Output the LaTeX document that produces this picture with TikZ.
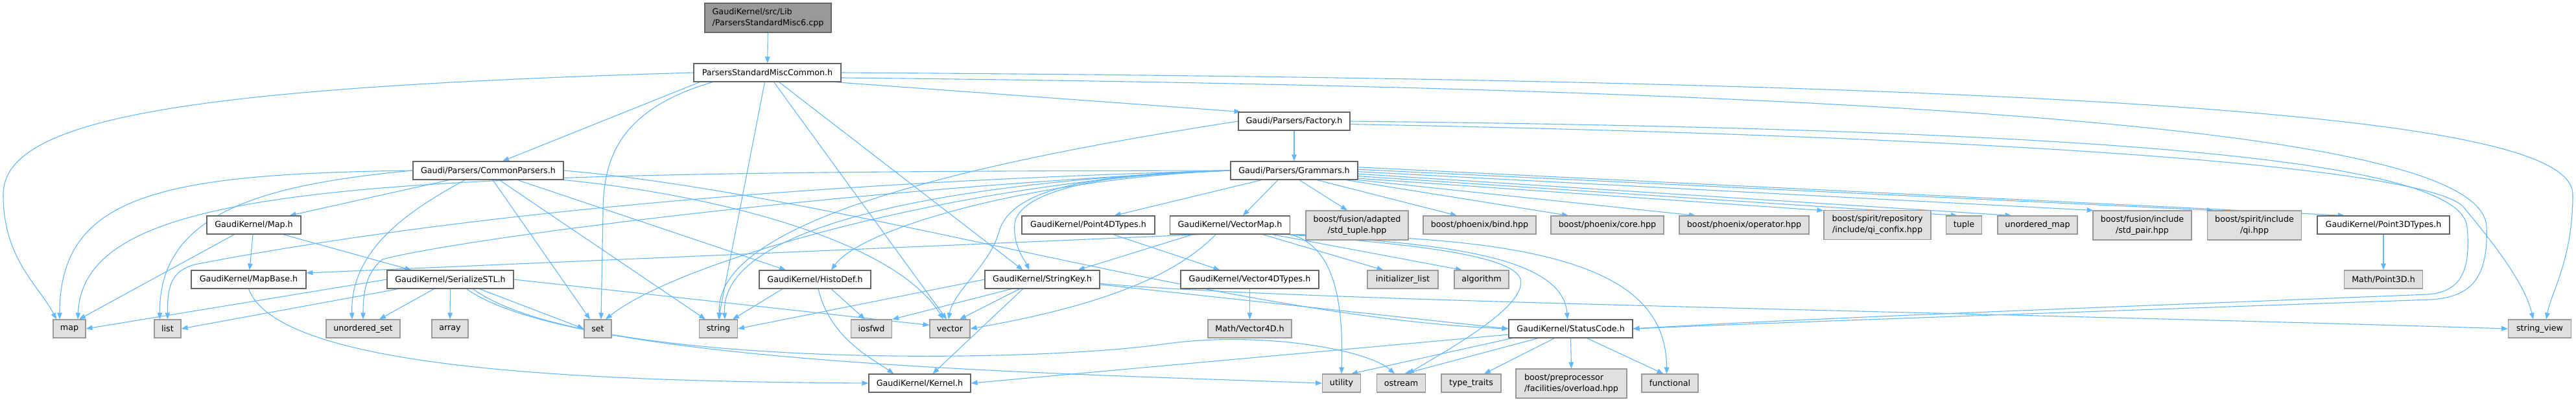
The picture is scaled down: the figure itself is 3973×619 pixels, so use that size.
\documentclass[tikz,border=0pt]{standalone}
\usepackage{fontspec}
\setmainfont{DejaVu Sans}
\usetikzlibrary{arrows.meta}
\pgfdeclarelayer{backg}
\pgfdeclarelayer{edges}
\pgfsetlayers{backg,edges,main}
\definecolor{edgec}{HTML}{63B8FF}
\definecolor{curfill}{HTML}{999999}
\definecolor{bordc}{HTML}{666666}
\definecolor{extfill}{HTML}{E0E0E0}
\definecolor{extbord}{HTML}{999999}
\begin{document}
\begin{tikzpicture}[x=1pt,y=-1pt,
  box/.style={inner sep=0pt,minimum height=28pt,font=\fontsize{12.7}{17}\selectfont,line width=1.1pt},
  wnode/.style={box,draw=bordc,fill=white},
  gnode/.style={box,draw=extbord,fill=extfill},
  cnode/.style={box,draw=bordc,fill=curfill},
  tall/.style={minimum height=45pt,align=center},
  tallleft/.style={minimum height=45pt,align=left},
  conn/.style={draw=edgec,line width=1.1pt,-{Triangle[length=10pt,width=7.5pt]}}]
\useasboundingbox (0,0) rectangle (3973,619);
\begin{pgfonlayer}{backg}
\fill[white] (0,0) rectangle (3973,619);
\end{pgfonlayer}
% nodes
\node[cnode,tallleft,minimum width=195pt] (misc6) at (1184.5,27.5) {GaudiKernel/src/Lib\\/ParsersStandardMisc6.cpp};
\node[wnode,minimum width=227pt] (psmc) at (1183.5,112) {ParsersStandardMiscCommon.h};
\node[wnode,minimum width=232pt] (cp) at (753,263) {Gaudi/Parsers/CommonParsers.h};
\node[wnode,minimum width=172pt] (fac) at (1996,187) {Gaudi/Parsers/Factory.h};
\node[wnode,minimum width=196pt] (gram) at (1996,263) {Gaudi/Parsers/Grammars.h};
\node[wnode,minimum width=145pt] (maph) at (391.5,347) {GaudiKernel/Map.h};
\node[wnode,minimum width=177pt] (mapbase) at (383.5,431) {GaudiKernel/MapBase.h};
\node[wnode,minimum width=195pt] (ser) at (694.5,431) {GaudiKernel/SerializeSTL.h};
\node[gnode,minimum width=50pt] (map) at (107,507) {map};
\node[gnode,minimum width=41pt] (list) at (258.5,507) {list};
\node[gnode,minimum width=114pt] (uset) at (560,507) {unordered\_set};
\node[gnode,minimum width=56pt] (array) at (694,507) {array};
\node[gnode,minimum width=42pt] (set) at (922,507) {set};
\node[gnode,minimum width=59pt] (string) at (1108,507) {string};
\node[wnode,minimum width=172pt] (histo) at (1257,431) {GaudiKernel/HistoDef.h};
\node[gnode,minimum width=63pt] (iosfwd) at (1344,507) {iosfwd};
\node[gnode,minimum width=62pt] (vector) at (1465,507) {vector};
\node[wnode,minimum width=157pt] (kernel) at (1418.5,591) {GaudiKernel/Kernel.h};
\node[wnode,minimum width=177pt] (skey) at (1607.5,431) {GaudiKernel/StringKey.h};
\node[wnode,minimum width=205pt] (p4d) at (1678.5,347) {GaudiKernel/Point4DTypes.h};
\node[wnode,minimum width=185pt] (vmap) at (1897,347) {GaudiKernel/VectorMap.h};
\node[gnode,tall,minimum width=158pt] (stdtuple) at (2093,347.5) {boost/fusion/adapted\\/std\_tuple.hpp};
\node[gnode,minimum width=174pt] (bind) at (2282,347) {boost/phoenix/bind.hpp};
\node[gnode,minimum width=174pt] (core) at (2479,347) {boost/phoenix/core.hpp};
\node[gnode,minimum width=200pt] (oper) at (2690,347) {boost/phoenix/operator.hpp};
\node[gnode,tall,minimum width=165pt] (confix) at (2895.5,347) {boost/spirit/repository\\/include/qi\_confix.hpp};
\node[gnode,minimum width=55pt] (tuple) at (3029,347) {tuple};
\node[gnode,minimum width=123pt] (umap) at (3142.5,347) {unordered\_map};
\node[gnode,tall,minimum width=152pt] (stdpair) at (3304,347.5) {boost/fusion/include\\/std\_pair.hpp};
\node[gnode,tall,minimum width=145pt] (qi) at (3477,347.5) {boost/spirit/include\\/qi.hpp};
\node[wnode,minimum width=204pt] (p3d) at (3676,347) {GaudiKernel/Point3DTypes.h};
\node[gnode,minimum width=121pt] (mp3d) at (3676,431) {Math/Point3D.h};
\node[gnode,minimum width=97pt] (sview) at (3917,507) {string\_view};
\node[wnode,minimum width=213pt] (v4d) at (1927.5,431) {GaudiKernel/Vector4DTypes.h};
\node[gnode,minimum width=109pt] (initl) at (2163.5,431) {initializer\_list};
\node[gnode,minimum width=84pt] (algo) at (2285,431) {algorithm};
\node[gnode,minimum width=129pt] (mv4d) at (1927.5,507) {Math/Vector4D.h};
\node[wnode,minimum width=191pt] (sc) at (2422.5,507) {GaudiKernel/StatusCode.h};
\node[gnode,minimum width=59pt] (utility) at (2069,591) {utility};
\node[gnode,minimum width=75pt] (ostream) at (2161,591) {ostream};
\node[gnode,minimum width=92pt] (ttraits) at (2269,591) {type\_traits};
\node[gnode,tallleft,minimum width=171pt] (overload) at (2423.5,591.5) {boost/preprocessor\\/facilities/overload.hpp};
\node[gnode,minimum width=87pt] (functional) at (2575.5,591) {functional};
% edges
\begin{pgfonlayer}{edges}
\draw[conn] (misc6) -- (psmc);
% ParsersStandardMiscCommon.h
\draw[conn] (psmc.west) .. controls (300,135) and (5,180) .. (5,300) .. controls (5,400) and (60,440) .. ([xshift=-20pt]map.north);
\draw[conn] ([xshift=10pt]psmc.south west) -- ([xshift=22pt]cp.north);
\draw[conn] ([xshift=30pt]psmc.south west) .. controls (950,170) and (930,250) .. (930,330) -- ([xshift=5pt]set.north);
\draw[conn] ([xshift=-4pt]psmc.south) -- (string.north);
\draw[conn] ([xshift=10pt]psmc.south) -- ([xshift=-5pt]vector.north);
\draw[conn] ([xshift=18pt]psmc.south) -- ([xshift=-30pt]skey.north);
\draw[conn] (psmc.-8) -- (fac.170);
\draw[conn] (psmc.east) .. controls (3400,125) and (3968,190) .. (3968,300) .. controls (3968,400) and (3935,450) .. ([xshift=10pt]sview.north);
\draw[conn] (psmc.-4) .. controls (3300,140) and (3830,230) .. (3835,350) .. controls (3838,430) and (3810,458) .. (3750,462) .. controls (3300,478) and (2800,495) .. (sc.east);
% Factory.h
\draw[conn] (fac) -- (gram);
\draw[conn] (fac.west) .. controls (1500,250) and (1100,340) .. ([xshift=2pt]string.north);
\draw[conn] (fac.east) .. controls (3300,200) and (3795,250) .. (3805,350) .. controls (3812,425) and (3790,450) .. (3745,454) .. controls (3300,472) and (2800,490) .. (sc.east);
\draw[conn] (fac.-3) .. controls (3300,215) and (3760,270) .. (3800,320) .. controls (3850,380) and (3895,440) .. ([xshift=-10pt]sview.north);
% CommonParsers.h
\draw[conn] (cp.west) .. controls (250,268) and (92,300) .. ([xshift=-15pt]map.north);
\draw[conn] (cp.west) .. controls (400,285) and (245,330) .. ([xshift=-12pt]list.north);
\draw[conn] ([xshift=-60pt]cp.south) -- ([xshift=55pt]maph.north);
\draw[conn] ([xshift=-36pt]cp.south) .. controls (640,320) and (540,380) .. ([xshift=-17pt]uset.north);
\draw[conn] ([xshift=45pt]cp.south) -- ([xshift=-45pt]histo.north);
\draw[conn] ([xshift=7pt]cp.south) -- ([xshift=-12pt]set.north);
\draw[conn] ([xshift=17pt]cp.south) -- ([xshift=-20pt]string.north);
\draw[conn] (cp.south east) .. controls (1100,300) and (1380,370) .. ([xshift=-10pt]vector.north);
\draw[conn] (cp.east) .. controls (1300,300) and (1900,490) .. (sc.west);
% Grammars.h
\draw[conn] (gram.west) .. controls (600,265) and (130,275) .. ([xshift=13pt]map.north);
\draw[conn] (gram.west) .. controls (1100,285) and (600,350) .. (300,408) .. controls (265,418) and (258,440) .. (list.north);
\draw[conn] (gram.west) .. controls (1300,290) and (700,370) .. (590,400) .. controls (565,420) and (560,450) .. (uset.north);
\draw[conn] (gram.west) .. controls (1500,275) and (1050,400) .. ([xshift=12pt]set.north);
\draw[conn] (gram.west) .. controls (1450,280) and (1110,350) .. ([xshift=10pt]string.north);
\draw[conn] (gram.west) .. controls (1650,268) and (1555,300) .. (1540,360) .. controls (1525,410) and (1470,450) .. ([xshift=-2pt]vector.north);
\draw[conn] (gram.west) .. controls (1680,266) and (1570,300) .. (1565,345) .. controls (1562,380) and (1580,400) .. ([xshift=-20pt]skey.north);
\draw[conn] (gram.west) .. controls (1600,275) and (1330,350) .. ([xshift=25pt]histo.north);
\draw[conn] ([xshift=-50pt]gram.south) -- ([xshift=40pt]p4d.north);
\draw[conn] ([xshift=-25pt]gram.south) -- ([xshift=20pt]vmap.north);
\draw[conn] ([xshift=8pt]gram.south) -- ([xshift=-15pt]stdtuple.north);
\draw[conn] ([xshift=35pt]gram.south) -- ([xshift=-35pt]bind.north);
\draw[conn] ([xshift=80pt]gram.south) -- ([xshift=-60pt]core.north);
\draw[conn] (gram.south east) -- ([xshift=-75pt]oper.north);
\draw[conn] (gram.-7) -- (confix.165);
\draw[conn] (gram.-5) -- ([xshift=-10pt]tuple.north);
\draw[conn] (gram.-3) -- ([xshift=-40pt]umap.north);
\draw[conn] (gram.-1) -- (stdpair.163);
\draw[conn] (gram.1) -- (qi.160);
\draw[conn] (gram.3) -- ([xshift=-60pt]p3d.north);
% Map.h, MapBase.h
\draw[conn] (maph) -- (mapbase);
\draw[conn] ([xshift=45pt]maph.south) -- ([xshift=-60pt]ser.north);
\draw[conn] ([xshift=-30pt]maph.south) -- ([xshift=15pt]map.north);
\draw[conn] (mapbase.south) .. controls (430,570) and (900,588) .. (kernel.west);
% SerializeSTL.h
\draw[conn] (ser.west) -- (map.east);
\draw[conn] ([xshift=-80pt]ser.south) -- (list.east);
\draw[conn] ([xshift=-25pt]ser.south) -- ([xshift=25pt]uset.north);
\draw[conn] (ser.south) -- (array.north);
\draw[conn] ([xshift=45pt]ser.south) -- (set.west);
\draw[conn] (ser.east) -- (vector.170);
\draw[conn] ([xshift=35pt]ser.south) .. controls (900,570) and (1600,560) .. (1800,530) .. controls (1950,510) and (2110,540) .. ([xshift=-10pt]ostream.north);
\draw[conn] ([xshift=25pt]ser.south) .. controls (880,560) and (1600,575) .. (utility.west);
% HistoDef.h
\draw[conn] ([xshift=-50pt]histo.south) -- ([xshift=22pt]string.north);
\draw[conn] ([xshift=25pt]histo.south) -- ([xshift=-10pt]iosfwd.north);
\draw[conn] ([xshift=5pt]histo.south) .. controls (1280,520) and (1340,550) .. ([xshift=-40pt]kernel.north);
% StringKey.h
\draw[conn] (skey.west) -- (string.east);
\draw[conn] ([xshift=-47pt]skey.south) -- (iosfwd.north east);
\draw[conn] ([xshift=-35pt]skey.south) -- ([xshift=15pt]vector.north);
\draw[conn] ([xshift=-30pt]skey.south) -- ([xshift=20pt]kernel.north);
\draw[conn] (skey.-5) -- (sc.west);
\draw[conn] (skey.-4) .. controls (2000,465) and (3000,480) .. (sview.west);
% VectorMap.h
\draw[conn] ([xshift=-45pt]vmap.south) -- ([yshift=10pt]mapbase.east);
\draw[conn] ([xshift=-57pt]vmap.south) -- ([xshift=55pt]skey.north);
\draw[conn] ([xshift=-22pt]vmap.south) .. controls (1800,440) and (1650,480) .. (vector.east);
\draw[conn] ([xshift=50pt]vmap.south) -- ([xshift=-30pt]initl.north);
\draw[conn] ([xshift=65pt]vmap.south) -- ([xshift=-30pt]algo.north);
\draw[conn] (vmap.south east) .. controls (2060,380) and (2072,470) .. (utility.north);
\draw[conn] ([xshift=-5pt]vmap.south east) .. controls (2150,375) and (2330,390) .. (2345,430) .. controls (2355,470) and (2250,530) .. ([xshift=10pt]ostream.north);
\draw[conn] (vmap.south east) .. controls (2200,375) and (2410,390) .. ([xshift=-5pt]sc.north);
\draw[conn] (vmap.south east) .. controls (2400,365) and (2570,420) .. ([xshift=-5pt]functional.north);
% Point / Vector types
\draw[conn] ([xshift=38pt]p4d.south) -- ([xshift=-46pt]v4d.north);
\draw[conn] (v4d) -- (mv4d);
\draw[conn] (p3d) -- (mp3d);
% StatusCode.h
\draw[conn] ([yshift=-9pt]sc.west) -- (kernel.east);
\draw[conn] ([xshift=-90pt]sc.south) -- ([xshift=15pt]utility.north);
\draw[conn] ([xshift=-50pt]sc.south) -- ([xshift=5pt]ostream.north);
\draw[conn] ([xshift=-25pt]sc.south) -- ([xshift=20pt]ttraits.north);
\draw[conn] (sc.south) -- (overload.north);
\draw[conn] ([xshift=25pt]sc.south) -- ([xshift=-10pt]functional.north);
\end{pgfonlayer}
\end{tikzpicture}
\end{document}
